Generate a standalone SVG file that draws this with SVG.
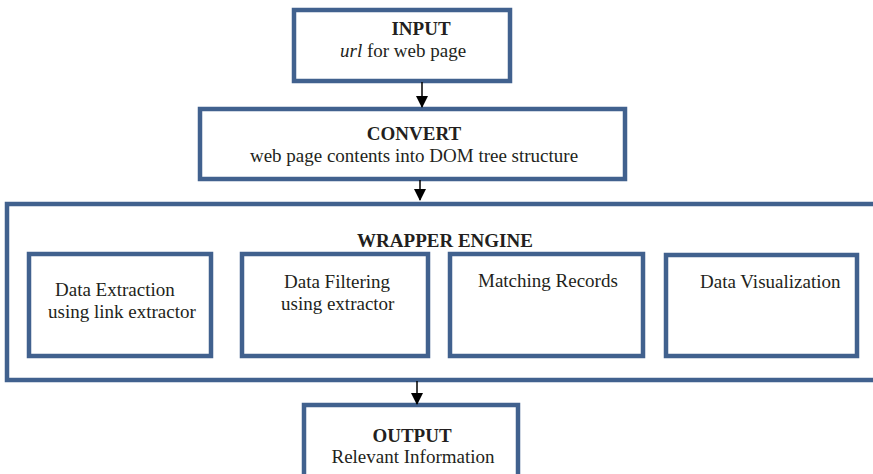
<svg xmlns="http://www.w3.org/2000/svg" width="873" height="474" viewBox="0 0 873 474">
<style>
.box{fill:#fff;stroke:#41618e;stroke-width:4.5}
text{font-family:"Liberation Serif","Times New Roman",serif;font-size:19px;fill:#231f20}
.b{font-weight:bold}
.c{text-anchor:middle}
.conn{stroke:#000;stroke-width:1.5;fill:none}
</style>
<defs>
<marker id="ah" markerWidth="12" markerHeight="12" refX="11" refY="6" orient="auto" markerUnits="userSpaceOnUse">
<path d="M0,0 L12,6 L0,12 z" fill="#000"/>
</marker>
</defs>
<rect width="873" height="474" fill="#fff"/>
<g id="wrapper">
<rect class="box" x="7" y="204" width="880" height="176"/>
<text class="b c" x="445" y="247">WRAPPER ENGINE</text>
</g>
<g id="input">
<rect class="box" x="294" y="10" width="216" height="71"/>
<text class="b c" x="421" y="35">INPUT</text>
<text x="340" y="57"><tspan font-style="italic">url</tspan> for web page</text>
</g>
<g id="convert">
<rect class="box" x="200" y="109" width="425" height="70"/>
<text class="b c" x="414" y="140">CONVERT</text>
<text class="c" x="414" y="162">web page contents into DOM tree structure</text>
</g>
<g id="extraction">
<rect class="box" x="29" y="254" width="182" height="102"/>
<text x="55" y="296">Data Extraction</text>
<text x="48" y="318">using link extractor</text>
</g>
<g id="filtering">
<rect class="box" x="242" y="254" width="186" height="102"/>
<text x="284" y="288">Data Filtering</text>
<text x="281" y="310">using extractor</text>
</g>
<g id="matching">
<rect class="box" x="450" y="254" width="193" height="102"/>
<text x="478" y="287">Matching Records</text>
</g>
<g id="visualization">
<rect class="box" x="666" y="255" width="191" height="101"/>
<text x="700" y="288">Data Visualization</text>
</g>
<g id="output">
<rect class="box" x="304" y="405" width="214" height="100"/>
<text class="b c" x="412" y="442">OUTPUT</text>
<text class="c" x="413" y="463">Relevant Information</text>
</g>
<g id="connectors">
<line class="conn" x1="422" y1="82" x2="422" y2="107" marker-end="url(#ah)"/>
<line class="conn" x1="420" y1="180" x2="420" y2="200" marker-end="url(#ah)"/>
<line class="conn" x1="417" y1="381" x2="417" y2="404" marker-end="url(#ah)"/>
</g>
</svg>
